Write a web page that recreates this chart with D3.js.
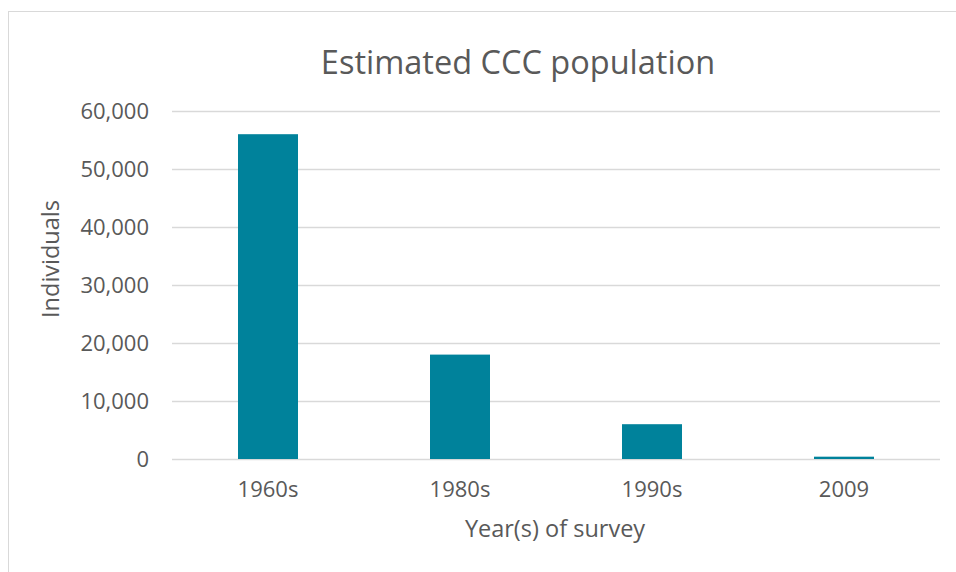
<!DOCTYPE html>
<html>
<head>
<meta charset="utf-8">
<script src="https://cdn.jsdelivr.net/npm/d3@7"></script>
<style>
  html, body { margin: 0; padding: 0; background: #fff; }
  svg { display: block; font-family: 'Open Sans', sans-serif; }
</style>
</head>
<body>
<main></main>
<script>
// Constants
const WIDTH = 956;
const HEIGHT = 572;
const PLOT = { left: 172, right: 940, top: 111, bottom: 459 };

// Data
const categories = ['1960s', '1980s', '1990s', '2009'];
const individuals = [56000, 18000, 6000, 400];
const yTicks = [0, 10000, 20000, 30000, 40000, 50000, 60000];

const TEXT = '#595959';
const GRID = '#d9d9d9';
const BAR = '#00829b';

const svg = d3.select('main')
  .append('svg')
  .attr('width', WIDTH)
  .attr('height', HEIGHT);

// Chart frame
svg.append('rect')
  .attr('x', 8.5)
  .attr('y', 11.5)
  .attr('width', 1000)
  .attr('height', 700)
  .attr('fill', '#fff')
  .attr('stroke', GRID);

// Scales
const xScale = d3.scaleBand(categories, [PLOT.left, PLOT.right]).paddingInner(0.6875).paddingOuter(0.34375);
const yScale = d3.scaleLinear([0, 60000], [PLOT.bottom, PLOT.top]);

// Gridlines + y labels
const yAxis = d3.axisLeft(yScale)
  .tickValues(yTicks)
  .tickFormat(d3.format(','))
  .tickSize(-(PLOT.right - PLOT.left))
  .tickPadding(23);

const gy = svg.append('g')
  .attr('transform', `translate(${PLOT.left}, 0)`)
  .call(yAxis);
gy.select('.domain').remove();
gy.selectAll('line').attr('stroke', GRID).attr('stroke-width', 1.3);
gy.selectAll('text')
  .attr('fill', TEXT)
  .attr('font-size', 22)
  .attr('font-family', "'Open Sans', sans-serif");

// Bars
svg.selectAll('rect.bar')
  .data(categories)
  .enter()
  .append('rect')
  .attr('class', 'bar')
  .attr('x', (d) => xScale(d))
  .attr('y', (d, i) => yScale(individuals[i]))
  .attr('width', xScale.bandwidth())
  .attr('height', (d, i) => yScale(0) - yScale(individuals[i]))
  .attr('fill', BAR);

// X axis labels
const xAxis = d3.axisBottom(xScale).tickSize(0).tickPadding(22);
const gx = svg.append('g')
  .attr('transform', `translate(0, ${PLOT.bottom})`)
  .call(xAxis);
gx.select('.domain').remove();
gx.selectAll('text')
  .attr('fill', TEXT)
  .attr('font-size', 22)
  .attr('font-family', "'Open Sans', sans-serif");

// Title
svg.append('text')
  .attr('x', 518)
  .attr('y', 74)
  .attr('text-anchor', 'middle')
  .attr('fill', TEXT)
  .attr('font-size', 32.5)
  .text('Estimated CCC population');

// Axis titles
svg.append('text')
  .attr('x', 555)
  .attr('y', 537)
  .attr('text-anchor', 'middle')
  .attr('fill', TEXT)
  .attr('font-size', 23.5)
  .text('Year(s) of survey');

svg.append('text')
  .attr('transform', 'translate(59, 259) rotate(-90)')
  .attr('text-anchor', 'middle')
  .attr('fill', TEXT)
  .attr('font-size', 23.5)
  .text('Individuals');
</script>
</body>
</html>
